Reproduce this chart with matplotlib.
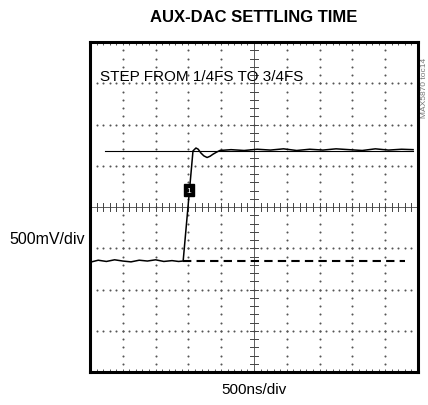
import matplotlib
matplotlib.use("Agg")
import matplotlib.pyplot as plt
import numpy as np

# scope screen: 10 x 8 divisions, values in divisions
n_xdiv = 10
n_ydiv = 8

# captured trace (x in div, y in div)
trace_x = [0.00, 0.25, 0.50, 0.75, 1.00, 1.25, 1.50, 1.75, 2.00, 2.25, 2.50, 2.70, 2.84,
           3.14, 3.23, 3.30, 3.38, 3.47, 3.57, 3.66, 3.75, 3.86, 3.96,
           4.30, 4.70, 5.10, 5.50, 5.90, 6.30, 6.70, 7.10, 7.50, 7.90, 8.30, 8.70, 9.10, 9.50, 9.85]
trace_y = [2.66, 2.71, 2.68, 2.72, 2.69, 2.67, 2.71, 2.69, 2.72, 2.68, 2.70, 2.68, 2.69,
           5.36, 5.43, 5.40, 5.31, 5.24, 5.20, 5.23, 5.28, 5.33, 5.37,
           5.39, 5.37, 5.40, 5.38, 5.41, 5.37, 5.40, 5.38, 5.41, 5.39, 5.37, 5.41, 5.38, 5.40, 5.39]

# reference levels
high_ref = 5.36
high_ref_span = [0.46, 9.85]
low_ref = 2.69
low_ref_span = [2.84, 9.60]

# channel marker
marker_pos = (3.02, 4.41)

title = "AUX-DAC SETTLING TIME"
note = "STEP FROM 1/4FS TO 3/4FS"
xlabel = "500ns/div"
ylabel = "500mV/div"
side_tag = "MAX5870 toc14"

plt.rcParams['font.family'] = ['Liberation Sans', 'DejaVu Sans']

fig = plt.figure(figsize=(4.28, 4.06), dpi=100)
ax = fig.add_axes([90 / 428, 33 / 406, 328 / 428, 330 / 406])
ax.set_xlim(0, n_xdiv)
ax.set_ylim(0, n_ydiv)

# dotted graticule
dot_c = '#555555'
minor = np.arange(0, n_xdiv + 0.01, 0.2)
minor_y = np.arange(0, n_ydiv + 0.01, 0.2)
for k in range(1, n_xdiv):
    if k == 5:
        continue
    ax.scatter(np.full(len(minor_y), k), minor_y, s=2.2, color=dot_c, lw=0, zorder=1)
for k in range(1, n_ydiv):
    if k == 4:
        continue
    ax.scatter(minor, np.full(len(minor), k), s=2.2, color=dot_c, lw=0, zorder=1)

# center axes with tick marks
ax.axvline(5, color='#444444', lw=0.6, zorder=1)
ax.axhline(4, color='#444444', lw=0.6, zorder=1)
for v in minor:
    ax.plot([v, v], [3.9, 4.1], color='#444444', lw=0.7, zorder=1)
for v in minor_y:
    ax.plot([4.88, 5.12], [v, v], color='#444444', lw=0.7, zorder=1)

# edge ticks
ax.set_xticks([])
ax.set_yticks([])
ax.set_xticks(minor, minor=True)
ax.tick_params(axis='x', which='minor', direction='in', length=2, width=0.7,
               color='#555555', top=True, bottom=True, labelbottom=False)
ax.tick_params(axis='y', which='both', left=False, right=False)

# reference lines
ax.plot(high_ref_span, [high_ref, high_ref], color='black', lw=0.8, zorder=2)
ax.plot(low_ref_span, [low_ref, low_ref], color='black', lw=1.5,
        dashes=(4, 2.5), zorder=2)

# trace
ax.plot(trace_x, trace_y, color='black', lw=1.1, zorder=3)

# channel marker
ax.text(marker_pos[0], marker_pos[1], "1", color='white', fontsize=6,
        ha='center', va='center', zorder=4,
        bbox=dict(boxstyle='square,pad=0.3', fc='black', ec='black'))

for s in ax.spines.values():
    s.set_linewidth(2.2)

ax.text(0.3, 7.18, note, fontsize=11, va='center', ha='left')

fig.text(254 / 428, 1 - 18 / 406, title, fontsize=12, fontweight='bold',
         ha='center', va='center')
fig.text(254 / 428, 1 - 390 / 406, xlabel, fontsize=11, ha='center', va='center')
fig.text(47 / 428, 1 - 240 / 406, ylabel, fontsize=11.5, ha='center', va='center')
fig.text(424 / 428, 1 - 88 / 406, side_tag, fontsize=6, color='#777777',
         rotation=90, ha='center', va='center')

fig.savefig('out.png', dpi=100)
